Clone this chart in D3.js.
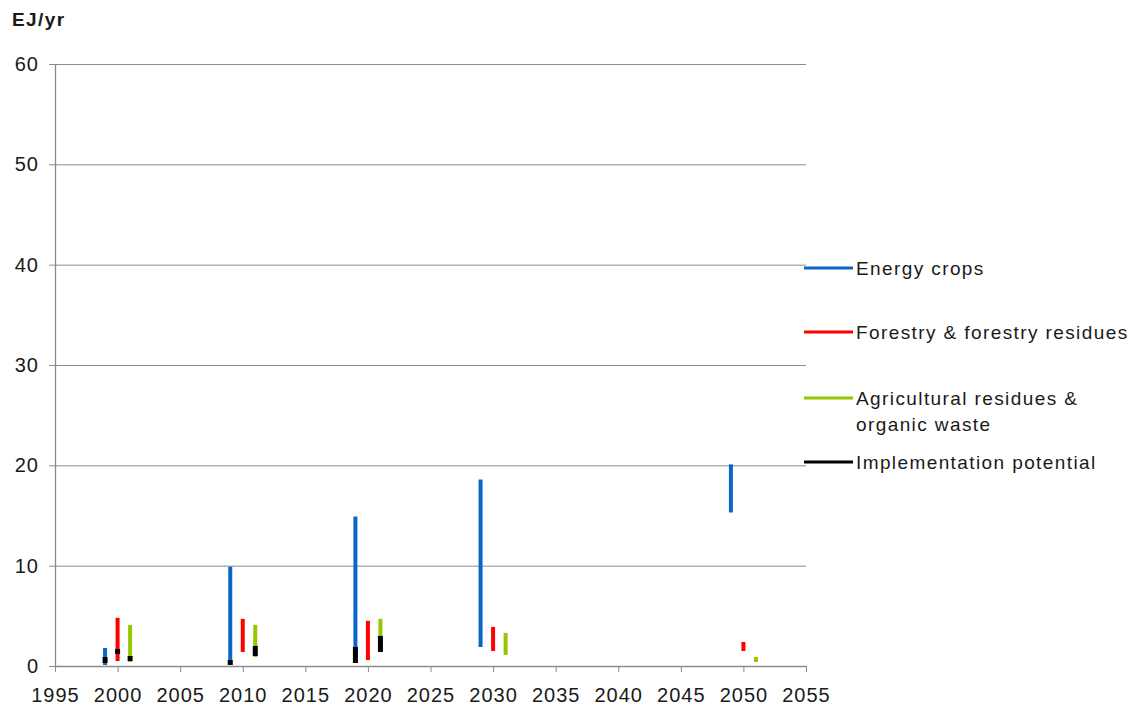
<!DOCTYPE html>
<html>
<head>
<meta charset="utf-8">
<script src="https://cdn.jsdelivr.net/npm/d3@7"></script>
<style>
  html, body { margin: 0; padding: 0; background: #fff; }
  svg { display: block; font-family: "Liberation Sans", Arial, sans-serif; }
  .lbl { font-size: 19px; letter-spacing: 1.4px; fill: #1a1a1a; }
</style>
</head>
<body>
<svg id="chart" width="1129" height="707"></svg>
<script>
// Biomass supply potential ranges (EJ/yr) by reference year
const years = [2000, 2010, 2020, 2030, 2050];
const energyLow  = [0.1, 0.1, 0.3, 1.9, 15.3];
const energyHigh = [1.8, 9.9, 14.9, 18.6, 20.1];
const forestLow  = [0.5, 1.4, 0.6, 1.5, 1.5];
const forestHigh = [4.8, 4.7, 4.5, 3.9, 2.4];
const agriLow    = [0.4, 0.9, 1.4, 1.1, 0.4];
const agriHigh   = [4.1, 4.1, 4.7, 3.3, 0.9];

// Implementation potential sub-ranges, placed on the bar of the matching source
const implYear   = [2000, 2000, 2000, 2010, 2010, 2020, 2020];
const implSource = ["energy", "forest", "agri", "energy", "agri", "energy", "agri"];
const implLow    = [0.3, 1.2, 0.5, 0.1, 1.0, 0.3, 1.4];
const implHigh   = [0.9, 1.7, 1.0, 0.6, 2.0, 1.9, 3.0];

const xTicks = [1995, 2000, 2005, 2010, 2015, 2020, 2025, 2030, 2035, 2040, 2045, 2050, 2055];
const yTicks = [0, 10, 20, 30, 40, 50, 60];

const sources = [
  { key: "energy", name: ["Energy crops"], color: "#0a66c9", offset: -1, low: energyLow, high: energyHigh },
  { key: "forest", name: ["Forestry & forestry residues"], color: "#ff0000", offset: 0, low: forestLow, high: forestHigh },
  { key: "agri", name: ["Agricultural residues &", "organic waste"], color: "#95c700", offset: 1, low: agriLow, high: agriHigh }
];
const implColor = "#000000";

const svg = d3.select("#chart");
const x = d3.scaleLinear().domain([1995, 2055]).range([55, 806]);
const y = d3.scaleLinear().domain([0, 60]).range([666, 64]);
const axisColor = "#8c8c8c";

// Horizontal gridlines
const grid = svg.append("g").attr("transform", `translate(${x.range()[0]},0)`)
  .call(d3.axisLeft(y).tickValues(yTicks.filter(d => d > 0)).tickSize(-(x.range()[1] - x.range()[0])).tickFormat(""));
grid.select(".domain").remove();
grid.selectAll("line").attr("stroke", axisColor).attr("stroke-width", 1);

// Y axis
const yAxis = svg.append("g").attr("transform", `translate(${x.range()[0]},0)`)
  .call(d3.axisLeft(y).tickValues(yTicks).tickSize(6).tickPadding(10).tickSizeOuter(0));
yAxis.select(".domain").attr("stroke", axisColor).attr("stroke-width", 1.3);
yAxis.selectAll("line").attr("stroke", axisColor);
yAxis.selectAll("text").attr("class", "lbl").attr("font-size", null).attr("font-family", null)
  .style("font-size", "20px").style("letter-spacing", "1px");

// X axis
const xAxis = svg.append("g").attr("transform", `translate(0,${y(0)})`)
  .call(d3.axisBottom(x).tickValues(xTicks).tickFormat(d3.format("d")).tickSize(6).tickPadding(16).tickSizeOuter(0));
xAxis.select(".domain").attr("stroke", axisColor).attr("stroke-width", 1.3);
xAxis.selectAll("line").attr("stroke", axisColor);
xAxis.selectAll("text").attr("class", "lbl").attr("font-size", null).attr("font-family", null)
  .style("font-size", "20px").style("letter-spacing", "1px");

// Unit label
svg.append("text").attr("x", 12).attr("y", 26)
  .attr("class", "lbl").style("font-weight", "bold").text("EJ/yr");

// Range bars for each biomass source
sources.forEach(s => {
  svg.append("g").selectAll("line").data(years).join("line")
    .attr("x1", (d) => x(d + s.offset)).attr("x2", (d) => x(d + s.offset))
    .attr("y1", (d, i) => y(s.low[i])).attr("y2", (d, i) => y(s.high[i]))
    .attr("stroke", s.color).attr("stroke-width", 4);
});

// Implementation potential overlays
const offsetOf = Object.fromEntries(sources.map(s => [s.key, s.offset]));
svg.append("g").selectAll("line").data(implYear).join("line")
  .attr("x1", (d, i) => x(d + offsetOf[implSource[i]])).attr("x2", (d, i) => x(d + offsetOf[implSource[i]]))
  .attr("y1", (d, i) => y(implLow[i])).attr("y2", (d, i) => y(implHigh[i]))
  .attr("stroke", implColor).attr("stroke-width", 5);

// Legend
const legendItems = [
  ...sources.map(s => ({ name: s.name, color: s.color })),
  { name: ["Implementation potential"], color: implColor }
];
const legendY = [268, 332, 398, 462];
const legend = svg.append("g");
legendItems.forEach((it, i) => {
  const g = legend.append("g").attr("transform", `translate(0,${legendY[i]})`);
  g.append("line").attr("x1", 804).attr("x2", 853).attr("y1", 0).attr("y2", 0)
    .attr("stroke", it.color).attr("stroke-width", 3);
  it.name.forEach((t, j) => {
    g.append("text").attr("class", "lbl").attr("x", 856).attr("y", j * 26)
      .attr("dy", "0.35em").text(t);
  });
});
</script>
</body>
</html>
